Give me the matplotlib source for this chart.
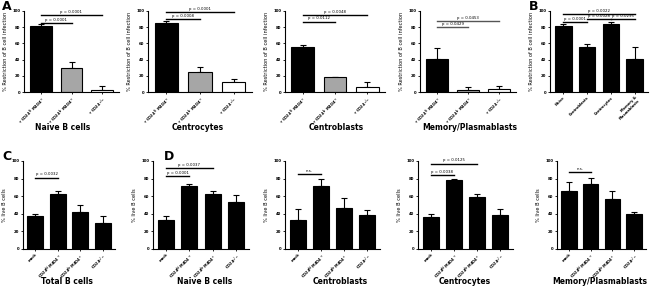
import matplotlib
matplotlib.use("Agg")
import matplotlib.pyplot as plt

plt.rcParams.update({'font.family': 'DejaVu Sans', 'font.weight': 'bold'})

W, H = 650, 288

# ---- data ----
a_labels = ["+ CD24$^{hi}$ M4D4$^+$", "+ CD24$^{lo}$ M4D4$^+$", "+ CD24$^{-/-}$"]
a_colors = ["black", "#a6a6a6", "white"]

naive_restr = [82, 30, 3]
naive_restr_err = [1.5, 7, 4]
centrocyte_restr = [85, 25, 12]
centrocyte_restr_err = [2.5, 6, 4]
centroblast_restr = [55, 18, 6]
centroblast_restr_err = [3, 0.6, 6]
memory_restr = [41, 3, 4]
memory_restr_err = [13, 3, 4]

b_labels = ["Naive", "Centroblasts", "Centrocytes", "Memory &\nPlasmablasts"]
b_restr = [82, 56, 84, 41]
b_restr_err = [2, 3, 2, 14]

d_labels = ["mock", "CD24$^{hi}$ M4D4$^+$", "CD24$^{lo}$ M4D4$^+$", "CD24$^{-/-}$"]
total_live = [38, 63, 42, 30]
total_live_err = [2, 3, 8, 7.5]
naive_live = [33, 72, 62, 53]
naive_live_err = [4, 2, 4, 8]
centroblast_live = [33, 72, 47, 39]
centroblast_live_err = [13, 8, 11, 5]
centrocyte_live = [36, 78, 59, 39]
centrocyte_live_err = [4, 2, 4, 6]
memory_live = [66, 74, 57, 40]
memory_live_err = [10, 7, 9, 2]

fig = plt.figure(figsize=(W / 100, H / 100), dpi=100)


def px_axes(x0, x1, ytop, ybot):
    return fig.add_axes([x0 / W, 1 - ybot / H, (x1 - x0) / W, (ybot - ytop) / H])


def bar_panel(ax, vals, errs, labels, colors, ylabel, brackets, bracket_color="black"):
    n = len(vals)
    xs = list(range(n))
    ax.bar(xs, vals, width=0.7, color=colors, edgecolor="black", linewidth=0.8, zorder=2)
    ax.errorbar(xs, vals, yerr=[[0] * n, errs], fmt="none", ecolor="black",
                elinewidth=0.8, capsize=2.2, capthick=0.8, zorder=1)
    ax.set_xlim(-0.55, n - 0.45)
    ax.set_ylim(0, 100)
    ax.set_yticks([0, 20, 40, 60, 80, 100])
    ax.set_xticks(xs)
    ax.set_xticklabels(labels, rotation=45, ha="right", rotation_mode="anchor", fontsize=2.6)
    ax.tick_params(axis="y", labelsize=2.8, length=1.5, width=0.6, pad=1)
    ax.tick_params(axis="x", length=1.5, width=0.6, pad=1)
    for s in ["top", "right"]:
        ax.spines[s].set_visible(False)
    for s in ["left", "bottom"]:
        ax.spines[s].set_linewidth(0.8)
    ax.set_ylabel(ylabel, fontsize=3.6, labelpad=3)
    for i, j, h, txt in brackets:
        ax.plot([i, j], [h, h], color=bracket_color, lw=1.0, clip_on=False)
        ax.text((i + j) / 2, h + 1.5, txt, ha="center", va="bottom", fontsize=2.8,
                fontweight="normal")


def title(x, y, txt):
    fig.text(x / W, 1 - y / H, txt, ha="center", va="center", fontsize=5.5)


restr_label = "% Restriction of B cell infection"
live_label = "% live B cells"

# ---- row A / B ----
top, bot = 11, 92
ax = px_axes(24, 119, top, bot)
bar_panel(ax, naive_restr, naive_restr_err, a_labels, a_colors, restr_label,
          [(0, 1, 85, "p = 0.0001"), (0, 2, 95, "p = 0.0001")])
title(63, 128, "Naive B cells")

ax = px_axes(148, 252, top, bot)
bar_panel(ax, centrocyte_restr, centrocyte_restr_err, a_labels, a_colors, restr_label,
          [(0, 1, 90, "p = 0.0008"), (0, 2, 99, "p = 0.0001")])
title(198, 128, "Centrocytes")

ax = px_axes(285, 385, top, bot)
bar_panel(ax, centroblast_restr, centroblast_restr_err, a_labels, a_colors, restr_label,
          [(0, 1, 87, "p = 0.0112"), (0, 2, 95, "p = 0.0048")])
title(336, 128, "Centroblasts")

ax = px_axes(420, 516, top, bot)
bar_panel(ax, memory_restr, memory_restr_err, a_labels, a_colors, restr_label,
          [(0, 1, 80, "p = 0.0429"), (0, 2, 88, "p = 0.0453")], bracket_color="#555555")
title(470, 128, "Memory/Plasmablasts")

ax = px_axes(550, 648, top, bot)
bar_panel(ax, b_restr, b_restr_err, b_labels, "black", restr_label,
          [(0, 1, 86, "p = 0.0001"), (1, 2, 90, "p = 0.0028"), (2, 3, 90, "p = 0.0295"),
           (0, 3, 96, "p = 0.0022")])

# ---- row C / D ----
top, bot = 161, 249
ax = px_axes(23, 115, top, bot)
bar_panel(ax, total_live, total_live_err, d_labels, "black", live_label,
          [(0, 1, 81, "p = 0.0032")])
title(67, 281, "Total B cells")

ax = px_axes(153, 249, top, bot)
bar_panel(ax, naive_live, naive_live_err, d_labels, "black", live_label,
          [(0, 1, 83, "p = 0.0001"), (0, 2, 92, "p = 0.0037")])
title(205, 281, "Naive B cells")

ax = px_axes(285, 380, top, bot)
bar_panel(ax, centroblast_live, centroblast_live_err, d_labels, "black", live_label,
          [(0, 1, 85, "n.s.")])
title(340, 281, "Centroblasts")

ax = px_axes(418, 513, top, bot)
bar_panel(ax, centrocyte_live, centrocyte_live_err, d_labels, "black", live_label,
          [(0, 1, 84, "p = 0.0038"), (0, 2, 97, "p = 0.0125")])
title(465, 281, "Centrocytes")

ax = px_axes(557, 646, top, bot)
bar_panel(ax, memory_live, memory_live_err, d_labels, "black", live_label,
          [(0, 1, 87, "n.s.")])
title(600, 281, "Memory/Plasmablasts")

# panel letters
for x, y, t in [(2, 7, "A"), (529, 7, "B"), (2, 156, "C"), (164, 156, "D")]:
    fig.text(x / W, 1 - y / H, t, fontsize=9, fontweight="bold", va="center", ha="left")

fig.savefig("out.png", dpi=100)
